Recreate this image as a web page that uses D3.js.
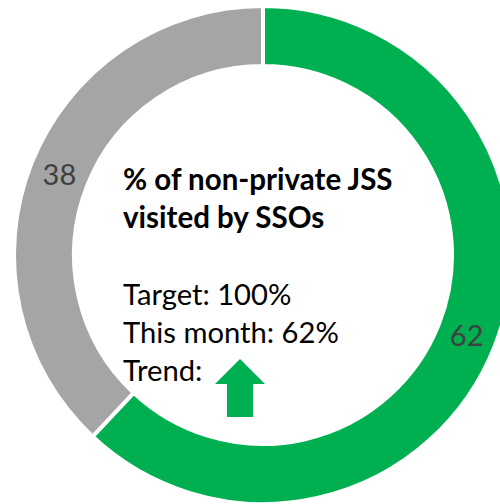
<!DOCTYPE html>
<html>
<head>
<meta charset="utf-8">
<script src="https://cdn.jsdelivr.net/npm/d3@7"></script>
<style>
  html, body { margin: 0; padding: 0; background: #fff; }
  svg { display: block; }
</style>
</head>
<body>
<div id="chart"></div>
<script>
// datos
const categories = ["Visited", "Not visited"]
const values = [62, 38]
const colors = ["#00B050", "#A5A5A5"]
const titleLines = ["% of non-private JSS", "visited by SSOs"]
const infoLines = ["Target: 100%", "This month: 62%", "Trend:"]

const width = 500, height = 504
const cx = 263, cy = 255
const outerR = 249, innerR = 189

const svg = d3.select("#chart")
  .append("svg")
  .attr("width", width)
  .attr("height", height)
  .attr("viewBox", [0, 0, width, height])

const g = svg.append("g").attr("transform", `translate(${cx},${cy})`)

const pie = d3.pie().sort(null).value(d => d)
const arcs = pie(values)

const arc = d3.arc().innerRadius(innerR).outerRadius(outerR)
const labelArc = d3.arc().innerRadius((innerR + outerR) / 2).outerRadius((innerR + outerR) / 2)

// anillo
g.selectAll("path.slice")
  .data(arcs)
  .join("path")
  .attr("class", "slice")
  .attr("d", arc)
  .attr("fill", (d, i) => colors[i])
  .attr("stroke", "#fff")
  .attr("stroke-width", 4)

const font = "Lato, 'Open Sans', sans-serif"

// etiquetas
g.selectAll("text.val")
  .data(arcs)
  .join("text")
  .attr("class", "val")
  .attr("transform", d => `translate(${labelArc.centroid(d)})`)
  .attr("text-anchor", "middle")
  .attr("dy", "0.35em")
  .attr("font-family", font)
  .attr("font-size", 29)
  .attr("fill", "#404040")
  .text(d => d.data)

// texto central
svg.selectAll("text.title")
  .data(titleLines)
  .join("text")
  .attr("class", "title")
  .attr("x", 123)
  .attr("y", (d, i) => 190 + i * 38)
  .attr("font-family", font)
  .attr("font-weight", "bold")
  .attr("font-size", 29.5)
  .attr("fill", "#000")
  .text(d => d)

svg.selectAll("text.info")
  .data(infoLines)
  .join("text")
  .attr("class", "info")
  .attr("x", 123)
  .attr("y", (d, i) => 305 + i * 38)
  .attr("font-family", font)
  .attr("font-size", 29.2)
  .attr("fill", "#000")
  .text(d => d)

// flecha de tendencia
const ax = 240, ay = 359
const arrow = [
  [ax, ay], [ax + 25, ay + 25], [ax + 13, ay + 25], [ax + 13, ay + 58],
  [ax - 13, ay + 58], [ax - 13, ay + 25], [ax - 25, ay + 25]
]
svg.append("path")
  .attr("d", d3.line()(arrow) + "Z")
  .attr("fill", colors[0])
</script>
</body>
</html>
